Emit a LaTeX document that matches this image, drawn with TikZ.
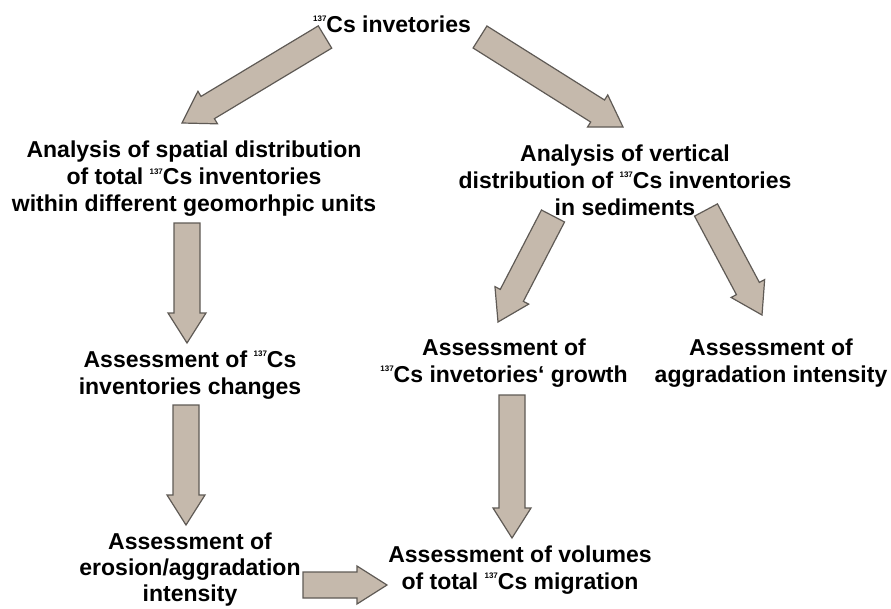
\documentclass[tikz,border=0pt]{standalone}
\usepackage{fontspec}
\setmainfont{Liberation Sans}
\usetikzlibrary{calc}
\definecolor{arrfill}{RGB}{197,185,172}
\definecolor{arredge}{RGB}{95,90,85}
\newcommand{\iso}[1]{\raisebox{10.5pt}{\fontsize{8}{8}\selectfont #1}}
\newcommand{\arrsw}{13pt}
\newcommand{\arrhw}{19pt}
\newcommand{\arrhl}{30pt}
% #1 tail, #2 tip, #3 name
\newcommand{\fatarrow}[3]{%
  \coordinate (#3base) at ($(#2)!\arrhl!(#1)$);
  \draw[fatarr] ($(#1)!\arrsw!90:(#2)$) -- ($(#3base)!\arrsw!-90:(#1)$)
    -- ($(#3base)!\arrhw!-90:(#1)$) -- (#2) -- ($(#3base)!\arrhw!90:(#1)$)
    -- ($(#3base)!\arrsw!90:(#1)$) -- ($(#1)!\arrsw!-90:(#2)$) -- cycle;
}
\tikzset{
  lbl/.style={font=\fontsize{23}{27}\selectfont\bfseries, align=center, inner sep=0pt},
  fatarr/.style={fill=arrfill, draw=arredge, line width=1.2pt, line join=miter}
}
\begin{document}
\begin{tikzpicture}[x=1pt,y=-1pt]
\useasboundingbox (0,0) rectangle (891,608);
% texts
\node[lbl] (top) at (392,24) {\iso{137}Cs invetories};
\node[lbl] (spat) at (194,179) {Analysis of spatial distribution\\of total \iso{137}Cs inventories\\within different geomorhpic units};
\node[lbl] (vert) at (625,180) {Analysis of vertical\\distribution of \iso{137}Cs inventories\\in sediments};
\node[lbl] (chg) at (190,375) {Assessment of \iso{137}Cs\\inventories changes};
\node[lbl] (grow) at (504,363) {Assessment of\\\iso{137}Cs invetories\char"60{} growth};
\node[lbl] (aggr) at (771,363) {Assessment of\\aggradation intensity};
\node[lbl, font=\fontsize{23}{26}\selectfont\bfseries] (eros) at (190,570) {Assessment of\\erosion/aggradation\\intensity};
\node[lbl] (vol) at (520,570) {Assessment of volumes\\of total \iso{137}Cs migration};
% arrow end points
\coordinate (t1) at (325,37);  \coordinate (h1) at (182,123);
\coordinate (t2) at (480,37);  \coordinate (h2) at (623,127);
\coordinate (t3) at (187,223); \coordinate (h3) at (187,343);
\coordinate (t4) at (186,405); \coordinate (h4) at (186,525);
\coordinate (t5) at (553,216); \coordinate (h5) at (498,322);
\coordinate (t6) at (706,210); \coordinate (h6) at (762,315);
\coordinate (t7) at (512,395); \coordinate (h7) at (512,538);
\coordinate (t8) at (303,585); \coordinate (h8) at (387,585);
\fatarrow{t1}{h1}{a}
\fatarrow{t2}{h2}{b}
\fatarrow{t3}{h3}{c}
\fatarrow{t4}{h4}{d}
\fatarrow{t5}{h5}{e}
\fatarrow{t6}{h6}{f}
\fatarrow{t7}{h7}{g}
\fatarrow{t8}{h8}{k}
\end{tikzpicture}
\end{document}
